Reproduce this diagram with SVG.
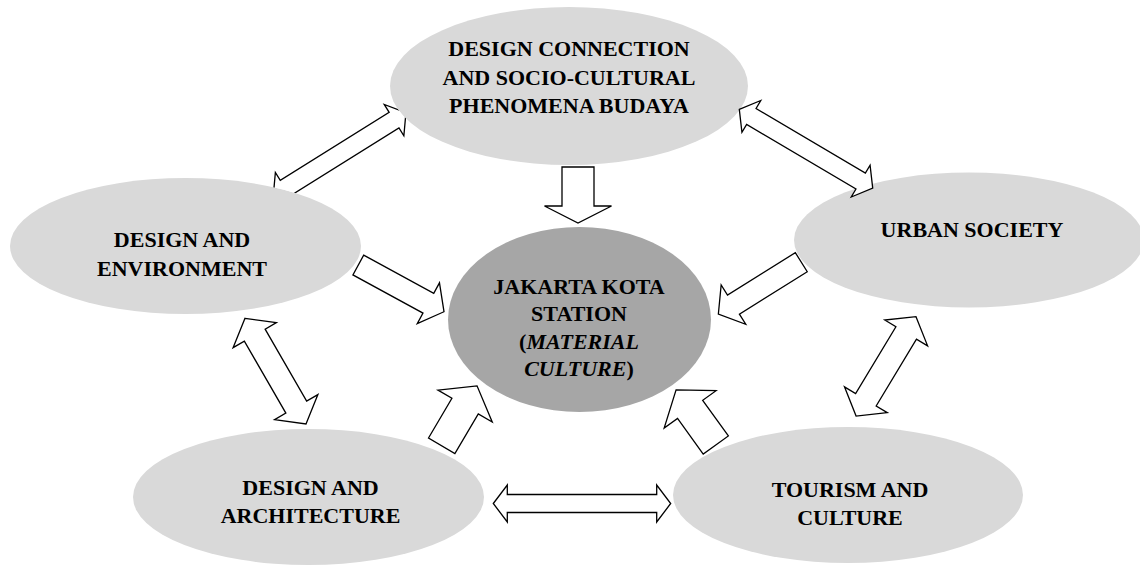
<svg xmlns="http://www.w3.org/2000/svg" width="1140" height="565" viewBox="0 0 1140 565">
<style>
.node{fill:#d9d9d9;stroke:none}
.core{fill:#a6a6a6;stroke:none}
.lbl{font-family:"Liberation Serif","Times New Roman",serif;font-weight:bold;font-size:22px;fill:#000;text-anchor:middle}
.arr{fill:#fff;stroke:#000;stroke-width:1.3;stroke-linejoin:miter}
</style>
<defs>
<mask id="behind" maskUnits="userSpaceOnUse" x="0" y="0" width="1140" height="565">
<rect x="0" y="0" width="1140" height="565" fill="#fff"/>
<ellipse cx="569" cy="86" rx="179" ry="79" fill="#000"/>
<ellipse cx="185.5" cy="246" rx="175.5" ry="68" fill="#000"/>
</mask>
</defs>
<rect width="1140" height="565" fill="#fff"/>
<g id="n-top"><ellipse class="node" cx="569" cy="86" rx="179" ry="79"/>
<text class="lbl" x="569" y="56">DESIGN CONNECTION</text>
<text class="lbl" x="569" y="84.5">AND SOCIO-CULTURAL</text>
<text class="lbl" x="569" y="113">PHENOMENA BUDAYA</text></g>
<g id="n-env"><ellipse class="node" cx="185.5" cy="246" rx="175.5" ry="68"/>
<text class="lbl" x="182" y="246.7">DESIGN AND</text>
<text class="lbl" x="182" y="275.7">ENVIRONMENT</text></g>
<g id="n-urban"><ellipse class="node" cx="969" cy="240" rx="175" ry="67.5"/>
<text class="lbl" x="972" y="237">URBAN SOCIETY</text></g>
<g id="n-tour"><ellipse class="node" cx="848" cy="495" rx="175" ry="68"/>
<text class="lbl" x="850" y="497">TOURISM AND</text>
<text class="lbl" x="850" y="525">CULTURE</text></g>
<g id="n-arch"><ellipse class="node" cx="308.5" cy="497" rx="175.5" ry="68"/>
<text class="lbl" x="310.5" y="495">DESIGN AND</text>
<text class="lbl" x="310.5" y="523">ARCHITECTURE</text></g>
<g id="n-center"><ellipse class="core" cx="579.5" cy="319.5" rx="131.5" ry="92.5"/>
<text class="lbl" x="579" y="293.5">JAKARTA KOTA</text>
<text class="lbl" x="579" y="321">STATION</text>
<text class="lbl" x="579" y="348.5">(<tspan font-style="italic">MATERIAL</tspan></text>
<text class="lbl" x="579" y="375.5"><tspan font-style="italic">CULTURE</tspan>)</text></g>
<g id="connectors">
<polygon class="arr" transform="translate(578,167) rotate(90)" points="0,-16 39,-16 39,-33.5 56,0 39,33.5 39,16 0,16"/>
<polygon class="arr" transform="translate(358.3,265) rotate(28.6)" points="0,-11.25 79.8,-11.25 79.8,-23.2 97.6,0 79.8,23.2 79.8,11.25 0,11.25"/>
<polygon class="arr" transform="translate(801.3,262.2) rotate(148)" points="0,-11.25 80,-11.25 80,-23.2 97.8,0 80,23.2 80,11.25 0,11.25"/>
<polygon class="arr" transform="translate(441.7,445.8) rotate(-59.5)" points="0,-15.3 46.1,-15.3 46.1,-31.5 69.6,0 46.1,31.5 46.1,15.3 0,15.3"/>
<polygon class="arr" transform="translate(715.8,445) rotate(-125.8)" points="0,-15.5 43.9,-15.5 43.9,-32 67.9,0 43.9,32 43.9,15.5 0,15.5"/>
<g mask="url(#behind)"><polygon class="arr" transform="translate(273.3,195.6) rotate(-32)" points="0,0 14,-18.5 14,-9.25 142.4,-9.25 142.4,-18.5 156.4,0 142.4,18.5 142.4,9.25 14,9.25 14,18.5"/></g>
<polygon class="arr" transform="translate(739.3,109.3) rotate(30.6)" points="0,0 14,-18.5 14,-9.25 141,-9.25 141,-18.5 155,0 141,18.5 141,9.25 14,9.25 14,18.5"/>
<polygon class="arr" transform="translate(245,318.3) rotate(60)" points="0,0 19.5,-25 19.5,-12 102.5,-12 102.5,-25 122,0 102.5,25 102.5,12 19.5,12 19.5,25"/>
<polygon class="arr" transform="translate(916,316.7) rotate(121.1)" points="0,0 19,-25 19,-12 97,-12 97,-25 116,0 97,25 97,12 19,12 19,25"/>
<polygon class="arr" transform="translate(493.3,503.5)" points="0,0 14,-18.5 14,-9 163.4,-9 163.4,-18.5 177.4,0 163.4,18.5 163.4,9 14,9 14,18.5"/>
</g>
</svg>
